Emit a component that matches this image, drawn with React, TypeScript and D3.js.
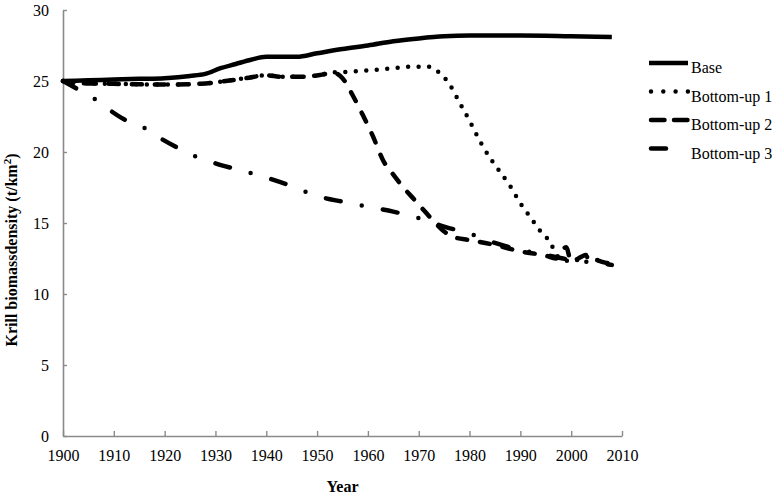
import React, { useRef, useEffect } from 'react';
import * as d3 from 'd3';

// Base scenario
const baseYears = [1900, 1905, 1910, 1915, 1920, 1925, 1928, 1931, 1934, 1937, 1940, 1946, 1950, 1955, 1960, 1965, 1970, 1975, 1980, 1990, 2000, 2008];
const baseValues = [25.0, 25.05, 25.1, 25.15, 25.2, 25.35, 25.5, 25.9, 26.2, 26.5, 26.7, 26.7, 26.95, 27.25, 27.5, 27.8, 28.0, 28.15, 28.2, 28.2, 28.15, 28.1];

// Bottom-up 1 (dotted)
const bu1Years = [1900, 1903, 1910, 1920, 1927, 1932, 1936, 1940, 1943, 1947, 1951, 1953, 1956, 1960, 1965, 1968, 1972, 1974, 1976, 1978, 1980, 1982, 1984, 1986, 1988, 1990, 1992, 1994, 1996, 1997, 1998, 2000, 2003, 2005, 2008];
const bu1Values = [25.0, 24.85, 24.8, 24.75, 24.8, 25.0, 25.2, 25.4, 25.3, 25.3, 25.45, 25.6, 25.65, 25.75, 25.9, 26.0, 26.0, 25.6, 24.8, 23.5, 22.2, 20.8, 19.6, 18.6, 17.6, 16.4, 15.4, 14.4, 13.55, 12.8, 12.5, 12.3, 12.6, 12.4, 12.1];

// Bottom-up 2 (dashed)
const bu2Years = [1900, 1903, 1910, 1920, 1927, 1932, 1936, 1940, 1943, 1947, 1951, 1953, 1955, 1957, 1959, 1961, 1963, 1965, 1967, 1969, 1971, 1973, 1975, 1977, 1980, 1985, 1990, 1995, 1997, 1999, 2000, 2003, 2005, 2008];
const bu2Values = [25.0, 24.85, 24.8, 24.75, 24.8, 25.0, 25.2, 25.4, 25.3, 25.3, 25.45, 25.6, 25.2, 24.0, 22.6, 21.1, 19.4, 18.4, 17.5, 16.7, 15.9, 15.1, 14.4, 14.0, 13.8, 13.45, 13.0, 12.7, 12.5, 13.3, 12.3, 12.75, 12.4, 12.1];

// Bottom-up 3 (dash-dot)
const bu3Years = [1900, 1903, 1906, 1909, 1912, 1916, 1919, 1922, 1926, 1930, 1935, 1940, 1945, 1950, 1955, 1960, 1965, 1970, 1975, 1980, 1985, 1990, 1995, 2000, 2005, 2008];
const bu3Values = [25.0, 24.4, 23.8, 23.0, 22.3, 21.7, 21.0, 20.4, 19.7, 19.2, 18.7, 18.2, 17.6, 16.9, 16.5, 16.15, 15.8, 15.35, 14.75, 14.25, 13.6, 13.1, 12.75, 12.4, 12.2, 12.05];

const xTicks = [1900, 1910, 1920, 1930, 1940, 1950, 1960, 1970, 1980, 1990, 2000, 2010];
const yTicks = [0, 5, 10, 15, 20, 25, 30];

const seriesNames = ['Base', 'Bottom-up 1', 'Bottom-up 2', 'Bottom-up 3'];

const App = () => {
  const ref = useRef<SVGSVGElement>(null);

  useEffect(() => {
    const svg = d3.select(ref.current);
    svg.selectAll('*').remove();

    const font = '"Liberation Serif", "Times New Roman", serif';
    const margin = { top: 10, left: 63, right: 159, bottom: 60 };
    const width = 781;
    const height = 496;

    const x = d3.scaleLinear().domain([1900, 2010]).range([margin.left, width - margin.right]);
    const y = d3.scaleLinear().domain([0, 30]).range([height - margin.bottom, margin.top]);

    const axisColor = '#8a8a8a';

    const xAxis = svg.append('g')
      .attr('transform', `translate(0,${y(0)})`)
      .call(d3.axisBottom(x).tickValues(xTicks).tickFormat(d3.format('d')).tickSizeInner(-5).tickSizeOuter(0).tickPadding(14));
    const yAxis = svg.append('g')
      .attr('transform', `translate(${x(1900)},0)`)
      .call(d3.axisLeft(y).tickValues(yTicks).tickSizeInner(-4).tickSizeOuter(0).tickPadding(14));

    [xAxis, yAxis].forEach(g => {
      g.select('.domain').attr('stroke', axisColor).attr('stroke-width', 1.6);
      g.selectAll('.tick line').attr('stroke', axisColor).attr('stroke-width', 1.4);
      g.selectAll('.tick text').attr('fill', '#000').style('font-family', font).style('font-size', '16px');
    });

    const series = [
      { years: baseYears, values: baseValues, dash: null },
      { years: bu1Years, values: bu1Values, dash: '0 10.5' },
      { years: bu2Years, values: bu2Values, dash: '10 13' },
      { years: bu3Years, values: bu3Values, dash: '15 21.5 0 21.5' },
    ];

    const line = d3.line<[number, number]>()
      .x(d => x(d[0]))
      .y(d => y(d[1]))
      .curve(d3.curveMonotoneX);

    series.forEach(s => {
      const pts = s.years.map((yr, i) => [yr, s.values[i]] as [number, number]);
      const p = svg.append('path')
        .attr('d', line(pts))
        .attr('fill', 'none')
        .attr('stroke', '#000')
        .attr('stroke-width', 4.5)
        .attr('stroke-linecap', s.dash ? 'round' : 'butt')
        .attr('stroke-linejoin', 'round');
      if (s.dash) p.attr('stroke-dasharray', s.dash);
    });

    // Legend
    const legendDash = [null, '0 12.3', '13.5 9.5', '15 30'];
    const legend = svg.append('g');
    seriesNames.forEach((name, i) => {
      const ly = 63 + i * 28.5;
      const l = legend.append('line')
        .attr('x1', legendDash[i] ? 651 : 649)
        .attr('x2', 688)
        .attr('y1', ly)
        .attr('y2', ly)
        .attr('stroke', '#000')
        .attr('stroke-width', 4.5)
        .attr('stroke-linecap', legendDash[i] ? 'round' : 'butt');
      if (legendDash[i]) l.attr('stroke-dasharray', legendDash[i]);
      legend.append('text')
        .attr('x', 691)
        .attr('y', ly + 10)
        .style('font-family', font)
        .style('font-size', '16px')
        .text(name);
    });

    // Axis titles
    svg.append('text')
      .attr('x', (x(1900) + x(2010)) / 2)
      .attr('y', 492)
      .attr('text-anchor', 'middle')
      .style('font-family', font)
      .style('font-size', '16px')
      .style('font-weight', 'bold')
      .text('Year');

    const yTitle = svg.append('text')
      .attr('transform', 'translate(17,250) rotate(-90)')
      .attr('text-anchor', 'middle')
      .style('font-family', font)
      .style('font-size', '16px')
      .style('font-weight', 'bold');
    yTitle.append('tspan').text('Krill biomassdensity (t/km');
    yTitle.append('tspan').attr('dy', -6).style('font-size', '11px').text('2');
    yTitle.append('tspan').attr('dy', 6).text(')');
  }, []);

  return (
    <svg
      ref={ref}
      width={781}
      height={496}
      style={{ position: 'absolute', left: 0, top: 0, background: '#fff' }}
    />
  );
};

export default App;
